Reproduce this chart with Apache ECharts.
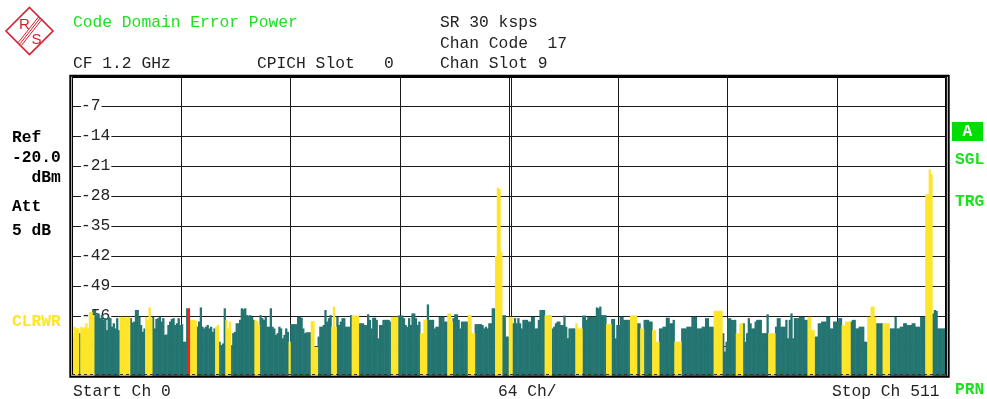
<!DOCTYPE html>
<html>
<head>
<meta charset="utf-8">
<script src="https://cdn.jsdelivr.net/npm/echarts@6/dist/echarts.min.js"></script>
<style>
  html, body { margin: 0; padding: 0; background: #fff; }
  #chart { width: 987px; height: 399px; }
</style>
</head>
<body>
<div id="chart"></div>
<script>
// Code domain error power per channel (dBm), channels 0..511
const power = [
  -61.2,-58.5,-58.9,-58.9,-60.0,-58.5,-58.9,-58.6,-57.7,-58.9,-55.1,-55.1,-55.8,-54.6,-55.8,-55.4,
  -56.5,-55.8,-56.9,-56.5,-59.3,-56.2,-56.5,-58.5,-57.7,-58.9,-56.5,-59.3,-56.2,-56.2,-56.4,-56.2,
  -56.5,-56.2,-56.5,-57.5,-57.3,-54.6,-54.6,-56.2,-58.1,-59.7,-58.9,-56.2,-56.9,-54.0,-56.4,-56.2,
  -58.9,-56.7,-56.5,-56.2,-57.3,-56.5,-60.4,-60.3,-58.1,-57.3,-56.7,-56.5,-58.1,-57.7,-56.5,-58.1,
  -57.9,-62.0,-62.0,-54.2,-54.2,-56.9,-56.9,-56.9,-57.2,-58.5,-57.3,-54.0,-58.5,-58.9,-58.5,-58.1,
  -58.9,-58.5,-59.7,-58.9,-58.5,-58.1,-62.0,-62.8,-62.4,-54.2,-56.9,-58.9,-57.3,-62.8,-60.0,-59.7,
  -57.7,-57.7,-56.9,-54.2,-54.4,-54.2,-55.8,-55.9,-55.8,-56.2,-56.9,-56.9,-57.2,-58.1,-55.8,-56.5,
  -56.9,-56.2,-58.5,-58.5,-54.2,-58.5,-58.9,-60.4,-60.0,-58.5,-58.9,-61.2,-60.4,-58.9,-59.7,-62.0,
  -57.9,-57.9,-57.9,-57.9,-56.2,-56.2,-56.4,-58.9,-60.0,-59.8,-59.8,-59.8,-57.2,-57.2,-63.2,-63.2,
  -60.8,-58.5,-58.5,-58.1,-54.6,-57.3,-56.5,-55.8,-58.5,-53.8,-58.5,-56.2,-58.1,-57.3,-56.5,-56.5,
  -58.5,-58.5,-58.5,-55.8,-55.9,-55.9,-55.9,-55.9,-57.7,-57.7,-57.7,-58.1,-58.1,-55.6,-56.9,-58.9,
  -56.4,-56.4,-56.9,-61.2,-58.1,-58.1,-56.9,-56.9,-56.9,-56.9,-57.3,-56.2,-56.2,-56.2,-56.2,-55.9,
  -55.9,-55.9,-56.5,-58.1,-58.5,-56.5,-58.1,-55.4,-55.4,-56.5,-58.1,-57.3,-60.0,-60.0,-56.9,-56.9,
  -53.3,-56.9,-56.9,-56.9,-58.9,-58.5,-58.5,-56.2,-56.2,-56.2,-57.3,-57.3,-55.4,-55.4,-57.3,-56.5,
  -55.6,-55.6,-56.9,-58.9,-57.3,-57.3,-57.3,-57.3,-55.8,-55.8,-60.0,-60.0,-57.9,-57.9,-57.9,-57.9,
  -58.1,-58.9,-58.5,-58.9,-57.7,-57.7,-54.2,-54.2,-42.0,-26.1,-26.4,-41.0,-55.8,-55.8,-60.8,-60.8,
  -56.2,-56.2,-57.7,-56.5,-57.7,-56.5,-57.7,-58.9,-56.9,-56.9,-56.9,-57.3,-57.3,-56.2,-56.2,-58.9,
  -58.9,-56.9,-54.6,-54.6,-54.6,-55.8,-55.8,-55.8,-55.8,-58.9,-58.5,-57.7,-57.3,-57.3,-58.1,-58.1,
  -55.9,-58.5,-61.2,-58.9,-58.9,-58.9,-58.9,-57.7,-58.9,-58.9,-58.9,-55.9,-55.9,-56.9,-56.2,-56.2,
  -56.2,-56.2,-56.2,-54.0,-54.2,-53.8,-55.8,-55.8,-55.8,-57.9,-57.9,-57.9,-56.7,-56.7,-61.2,-58.1,
  -58.1,-56.2,-56.2,-56.9,-56.9,-56.9,-56.9,-55.9,-55.9,-55.9,-55.9,-57.7,-57.7,-58.9,-58.9,-56.9,
  -56.9,-56.9,-57.3,-57.3,-59.3,-59.3,-62.0,-62.0,-58.9,-58.9,-58.5,-58.5,-56.4,-56.4,-57.7,-57.7,
  -56.9,-62.0,-62.0,-62.0,-62.0,-58.9,-58.9,-58.9,-58.5,-58.5,-58.5,-56.2,-56.2,-56.2,-58.9,-58.9,
  -58.9,-58.5,-58.5,-56.5,-56.5,-58.5,-58.5,-58.5,-54.8,-54.8,-54.8,-54.8,-54.8,-60.0,-64.3,-62.0,
  -56.5,-56.5,-56.9,-56.9,-56.9,-60.0,-60.0,-57.7,-57.7,-57.7,-62.0,-60.0,-56.5,-57.7,-58.9,-58.9,
  -57.3,-56.9,-56.9,-56.9,-60.0,-60.0,-60.0,-55.6,-60.0,-60.0,-60.0,-60.0,-58.5,-56.5,-56.5,-58.5,
  -58.5,-58.5,-56.9,-61.2,-56.9,-55.4,-61.2,-56.5,-56.5,-56.5,-56.2,-56.2,-56.2,-56.9,-56.9,-56.2,
  -56.2,-59.3,-59.3,-60.8,-60.8,-57.7,-57.7,-57.3,-57.3,-57.3,-56.2,-56.2,-58.9,-58.9,-57.3,-57.3,
  -57.3,-56.5,-56.5,-58.1,-58.1,-57.3,-57.3,-57.3,-57.3,-56.9,-56.9,-58.9,-58.9,-58.5,-58.5,-58.5,
  -62.0,-62.0,-56.2,-56.2,-53.8,-53.8,-56.2,-57.7,-57.7,-57.7,-57.7,-57.7,-57.7,-57.7,-57.7,-58.9,
  -58.9,-58.9,-56.2,-58.9,-58.9,-58.5,-58.5,-57.7,-57.7,-58.1,-58.1,-58.1,-57.7,-57.7,-58.5,-58.5,
  -58.5,-56.2,-56.2,-56.2,-27.6,-27.6,-21.8,-22.9,-55.4,-54.6,-54.8,-58.9,-58.9,-58.9,-58.9,-58.9
];

// Channels occupied by active codes (inclusive ranges), drawn yellow
const activeRanges = [
  [0,3],[5,12],[28,33],[43,46],[69,72],[84,85],[90,92],[107,109],[127,127],
  [140,143],[152,154],[164,167],[187,190],[204,207],[220,222],[232,235],[248,251],
  [256,257],[277,280],[295,298],[313,315],[327,330],[333,334],[340,343],[353,356],
  [376,380],[389,392],[408,411],[431,434],[451,455],[466,470],[475,478],[500,503]
];

// Selected code channel, drawn red
const selectedChannel = 68;

// Axis scale: 7 dB per division from the reference level down to -70 dBm
const refLevel = 0;
const floorLevel = -70;
const dbPerDiv = 7;
const channelCount = 512;
const channelsPerDiv = 64;

// Header and annotation texts
const headerTitle = 'Code Domain Error Power';
const headerLines = ['SR 30 ksps', 'Chan Code  17', 'Chan Slot 9'];
const headerCf = 'CF 1.2 GHz';
const headerSlot = 'CPICH Slot   0';
const leftInfo = ['Ref', '-20.0', '  dBm', 'Att', '5 dB'];
const traceMode = 'CLRWR';
const rightFlags = ['SGL', 'TRG'];
const footerTexts = ['Start Ch 0', '64 Ch/', 'Stop Ch 511'];

const TEAL = '#247571';
const YELLOW = '#ffe52a';
const RED = '#ff1e1e';
const GREEN = '#1fe01f';
const INK = '#232323';
const MONO = '"Liberation Mono", "DejaVu Sans Mono", monospace';

const isActive = new Array(channelCount).fill(false);
activeRanges.forEach(([a, b]) => { for (let i = a; i <= b; i++) isActive[i] = true; });

// Bars grow from the bottom of the screen, so heights are measured above the floor level
const lift = v => v - floorLevel;
const tealData = power.map((v, i) => (!isActive[i] && i !== selectedChannel) ? lift(v) : null);
const yellowData = power.map((v, i) => (isActive[i] && i !== selectedChannel) ? lift(v) : null);
const redData = power.map((v, i) => (i === selectedChannel) ? lift(v) : null);
const categories = power.map((_, i) => i);

function label(x, y, text, fill, weight, align) {
  return {
    type: 'text', x: x, y: y, z: 110,
    style: {
      text: text, fill: fill,
      font: (weight || 'normal') + ' 16.3px ' + MONO,
      textAlign: align || 'left', textVerticalAlign: 'middle'
    }
  };
}

const graphics = [
  // R&S logo
  { type: 'polygon', z: 110, shape: { points: [[29.5, 7.5], [53, 31], [29.5, 54.5], [6, 31]] },
    style: { fill: '#fff', stroke: '#d4202c', lineWidth: 1.6 } },
  { type: 'line', z: 111, shape: { x1: 38.6, y1: 16.8, x2: 18.4, y2: 42.4 }, style: { stroke: '#d4202c', lineWidth: 1 } },
  { type: 'line', z: 111, shape: { x1: 40.3, y1: 18.0, x2: 20.1, y2: 43.7 }, style: { stroke: '#d4202c', lineWidth: 1 } },
  { type: 'line', z: 111, shape: { x1: 42.0, y1: 19.3, x2: 21.8, y2: 45.0 }, style: { stroke: '#d4202c', lineWidth: 1 } },
  { type: 'text', z: 112, x: 24.5, y: 24.5, style: { text: 'R', fill: '#d4202c', font: '15px "Liberation Sans", sans-serif', textAlign: 'center', textVerticalAlign: 'middle' } },
  { type: 'text', z: 112, x: 36.5, y: 39.5, style: { text: 'S', fill: '#d4202c', font: '15px "Liberation Sans", sans-serif', textAlign: 'center', textVerticalAlign: 'middle' } },

  label(73, 22.3, headerTitle, GREEN),
  label(440, 22.3, headerLines[0], INK),
  label(440, 43.5, headerLines[1], INK),
  label(440, 64, headerLines[2], INK),
  label(73, 63.5, headerCf, INK),
  label(257, 63.5, headerSlot, INK),

  label(12, 137.7, leftInfo[0], '#000', 'bold'),
  label(12, 158.3, leftInfo[1], '#000', 'bold'),
  label(12, 178.3, leftInfo[2], '#000', 'bold'),
  label(12, 206.7, leftInfo[3], '#000', 'bold'),
  label(12, 231, leftInfo[4], '#000', 'bold'),
  label(12, 321.7, traceMode, YELLOW, 'bold'),

  { type: 'rect', z: 110, shape: { x: 952, y: 122, width: 31, height: 19 }, style: { fill: '#00dd00' } },
  label(967.5, 132, 'A', '#fff', 'bold', 'center'),
  label(955, 160, rightFlags[0], GREEN, 'bold'),
  label(955, 201.7, rightFlags[1], GREEN, 'bold'),
  label(955, 390, 'PRN', GREEN, 'bold'),

  label(73, 392, footerTexts[0], INK),
  label(498, 392, footerTexts[1], INK),
  label(832, 392, footerTexts[2], INK),

  // Screen frame: heavy outer border with a thin inner line
  { type: 'rect', z: 120, shape: { x: 70.3, y: 75.7, width: 878.4, height: 301 },
    style: { fill: null, stroke: '#000', lineWidth: 2 } },
  { type: 'polyline', z: 120, shape: { points: [[72.5, 374], [72.5, 77.5], [945.5, 77.5], [945.5, 374]] },
    style: { fill: null, stroke: '#000', lineWidth: 1 } },
  { type: 'line', z: 120, shape: { x1: 72, y1: 374.5, x2: 946, y2: 374.5 },
    style: { stroke: '#333', lineWidth: 1, lineDash: [3, 3] } },
  // doubled centre division line
  { type: 'line', z: 1, shape: { x1: 511.5, y1: 76, x2: 511.5, y2: 376 },
    style: { stroke: '#1a1a1a', lineWidth: 1 } }
];

const barStyle = { barGap: '-100%', barWidth: 2.3, silent: true, xAxisIndex: 1 };

const chart = echarts.init(document.getElementById('chart'), null, { renderer: 'canvas' });
chart.setOption({
  animation: false,
  backgroundColor: '#fff',
  grid: { left: 72, right: 41, top: 76, bottom: 23, containLabel: false },
  xAxis: [
    {
      type: 'value', min: 0, max: channelCount, interval: channelsPerDiv,
      axisLine: { show: false }, axisTick: { show: false }, axisLabel: { show: false },
      splitLine: { show: true, lineStyle: { color: '#1a1a1a', width: 1 } }
    },
    {
      type: 'category', data: categories, show: false, boundaryGap: true
    }
  ],
  yAxis: {
    type: 'value', min: 0, max: refLevel - floorLevel, interval: dbPerDiv,
    axisLine: { show: false }, axisTick: { show: false },
    splitLine: { show: true, lineStyle: { color: '#1a1a1a', width: 1 } },
    axisLabel: {
      inside: true, margin: 9,
      color: INK, fontFamily: MONO, fontSize: 16.3,
      backgroundColor: '#fff', padding: [0, 1, 0, 0],
      formatter: v => (v <= 0 || v >= refLevel - floorLevel) ? '' : String(Math.round(v + floorLevel))
    }
  },
  series: [
    Object.assign({ type: 'bar', name: 'inactive', data: tealData, itemStyle: { color: TEAL }, z: 2 }, barStyle),
    Object.assign({ type: 'bar', name: 'active', data: yellowData, itemStyle: { color: YELLOW }, z: 3 }, barStyle),
    Object.assign({ type: 'bar', name: 'selected', data: redData, itemStyle: { color: RED }, z: 4 }, barStyle)
  ],
  graphic: graphics
});
</script>
</body>
</html>
